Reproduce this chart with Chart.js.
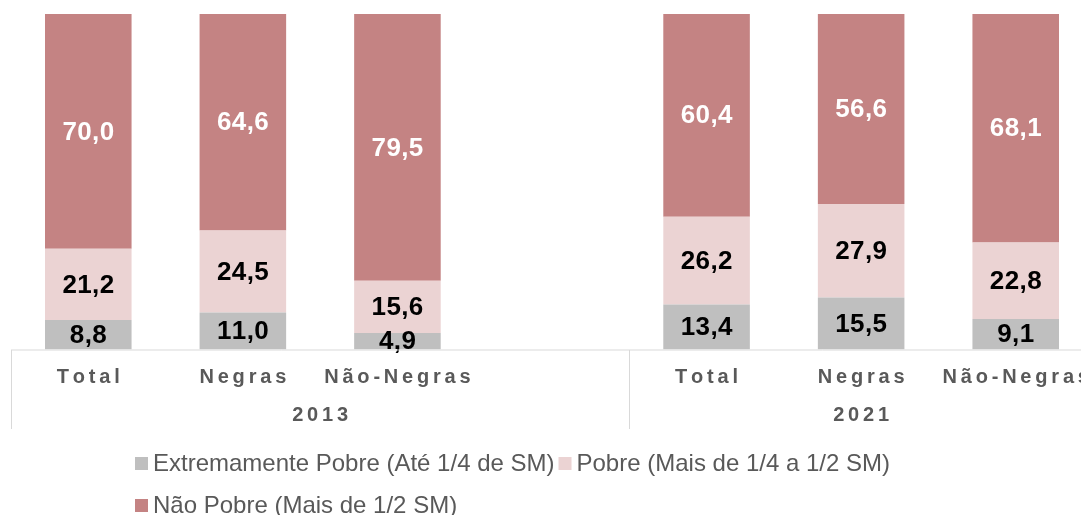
<!DOCTYPE html>
<html>
<head>
<meta charset="utf-8">
<script src="https://cdn.jsdelivr.net/npm/chart.js@4.4.1/dist/chart.umd.min.js"></script>
<style>
  html, body { margin: 0; padding: 0; background: #ffffff; overflow: hidden; }
  #wrap { position: relative; width: 1093px; height: 515px; }
</style>
</head>
<body>
<div id="wrap"><canvas id="c" width="1093" height="515"></canvas></div>
<script>
// ---- data ----
const categories = ['Total', 'Negras', 'Não-Negras', '', 'Total', 'Negras', 'Não-Negras'];
const groups = ['2013', '2021'];
const groupSizes = [4, 3];
const extremamentePobre = [8.8, 11.0, 4.9, null, 13.4, 15.5, 9.1];
const pobre = [21.2, 24.5, 15.6, null, 26.2, 27.9, 22.8];
const naoPobre = [70.0, 64.6, 79.5, null, 60.4, 56.6, 68.1];
const seriesNames = ['Extremamente Pobre (Até 1/4 de SM)', 'Pobre (Mais de 1/4 a 1/2 SM)', 'Não Pobre (Mais de 1/2 SM)'];

const colors = ['#bfbfbf', '#ebd3d3', '#c48383'];
const labelColors = ['#000000', '#000000', '#ffffff'];
const FONT = '"Liberation Sans", Arial, "DejaVu Sans", sans-serif';

function spacedWidth(ctx, text, spacing) {
  const chars = [...text];
  let w = 0;
  chars.forEach(c => { w += ctx.measureText(c).width; });
  return w + spacing * Math.max(0, chars.length - 1);
}
function drawSpaced(ctx, text, x, y, spacing, align) {
  if (!spacing) {
    ctx.textAlign = align === 'left' ? 'left' : 'center';
    ctx.fillText(text, x, y);
    return ctx.measureText(text).width;
  }
  const chars = [...text];
  const total = spacedWidth(ctx, text, spacing);
  let cx = align === 'left' ? x : x - total / 2;
  ctx.textAlign = 'left';
  chars.forEach(c => {
    ctx.fillText(c, cx, y);
    cx += ctx.measureText(c).width + spacing;
  });
  return total;
}

const decor = {
  id: 'decor',
  afterDatasetsDraw(chart) {
    const ctx = chart.ctx;
    ctx.save();
    // data labels
    ctx.font = 'bold 26px ' + FONT;
    ctx.textBaseline = 'middle';
    chart.data.datasets.forEach((ds, di) => {
      const meta = chart.getDatasetMeta(di);
      meta.data.forEach((bar, i) => {
        const v = ds.data[i];
        if (v === null || v === undefined) return;
        const cy = (bar.y + bar.base) / 2;
        ctx.fillStyle = labelColors[di];
        drawSpaced(ctx, v.toFixed(1).replace('.', ','), bar.x, cy + 1, 0.4);
      });
    });
    ctx.restore();
  },
  afterDraw(chart) {
    const ctx = chart.ctx;
    const area = chart.chartArea;
    const xs = chart.scales.x;
    const catW = (area.right - area.left) / categories.length;
    const yAxis = area.bottom + 0.5;
    ctx.save();
    // axis lines
    ctx.strokeStyle = '#d9d9d9';
    ctx.lineWidth = 1;
    ctx.beginPath();
    ctx.moveTo(area.left, yAxis);
    ctx.lineTo(chart.width, yAxis);
    let idx = 0;
    const bounds = [area.left + 0.5];
    groupSizes.forEach(n => { idx += n; bounds.push(Math.round(area.left + idx * catW) + 0.5); });
    bounds.slice(0, groupSizes.length).forEach(bx => {
      ctx.moveTo(bx, yAxis);
      ctx.lineTo(bx, yAxis + 79);
    });
    ctx.stroke();

    // category labels
    ctx.fillStyle = '#595959';
    ctx.font = 'bold 20px ' + FONT;
    ctx.textBaseline = 'middle';
    categories.forEach((c, i) => {
      if (!c) return;
      drawSpaced(ctx, c, xs.getPixelForValue(i), 377, 3.8);
    });
    // group labels
    let start = 0;
    groups.forEach((g, gi) => {
      const first = xs.getPixelForValue(start) - catW / 2;
      const last = xs.getPixelForValue(start + groupSizes[gi] - 1) + catW / 2;
      drawSpaced(ctx, g, (first + last) / 2, 415, 3.8);
      start += groupSizes[gi];
    });

    // legend
    ctx.font = '24px ' + FONT;
    const rows = [[0, 1], [2]];
    const rowY = [463, 505];
    rows.forEach((row, ri) => {
      let x = 135;
      row.forEach(si => {
        ctx.fillStyle = colors[si];
        ctx.fillRect(x, rowY[ri] - 6, 13, 13);
        ctx.fillStyle = '#595959';
        const w = drawSpaced(ctx, seriesNames[si], x + 18, rowY[ri] + 1, 0, 'left');
        x = x + 18 + w + 4;
      });
    });
    ctx.restore();
  }
};

new Chart(document.getElementById('c'), {
  type: 'bar',
  data: {
    labels: categories,
    datasets: [
      { label: seriesNames[0], data: extremamentePobre, backgroundColor: colors[0] },
      { label: seriesNames[1], data: pobre, backgroundColor: colors[1] },
      { label: seriesNames[2], data: naoPobre, backgroundColor: colors[2] }
    ]
  },
  options: {
    responsive: false,
    animation: false,
    layout: { padding: { left: 11, right: 0, top: 14, bottom: 165.5 } },
    datasets: { bar: { categoryPercentage: 1, barPercentage: 0.56, borderWidth: 0 } },
    scales: {
      x: { stacked: true, display: false },
      y: { stacked: true, display: false, min: 0, max: 100 }
    },
    plugins: {
      legend: { display: false },
      tooltip: { enabled: false }
    }
  },
  plugins: [decor]
});
</script>
</body>
</html>
